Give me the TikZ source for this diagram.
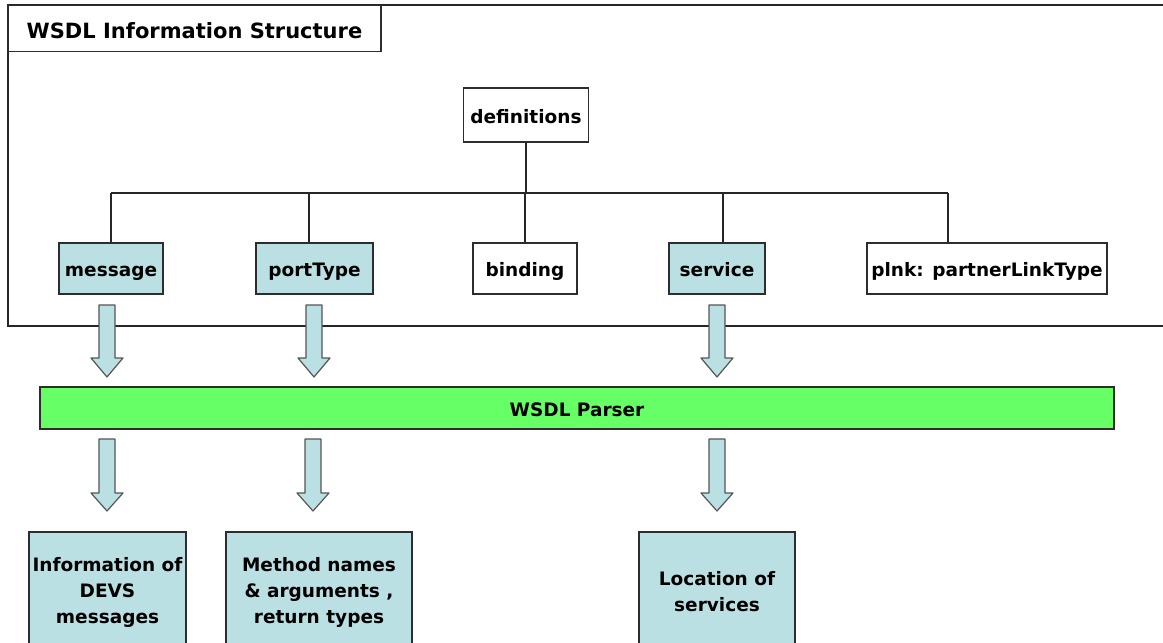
\documentclass[tikz,border=0pt]{standalone}
\usepackage{fontspec}
\setmainfont{DejaVu Sans}
\definecolor{paleblue}{RGB}{187,224,227}
\definecolor{parsergreen}{RGB}{102,255,102}
\definecolor{edge}{RGB}{45,45,45}
\definecolor{arrowedge}{RGB}{85,85,85}
% hollow block arrow pointing down: {centre x}{top y}{head start y}{tip y}
\newcommand{\wsdlarrow}[4]{%
  \draw[blockarrow] (#1-8,#2) -- (#1+8,#2) -- (#1+8,#3) -- (#1+16,#3)
    -- (#1,#4) -- (#1-16,#3) -- (#1-8,#3) -- cycle;}
\begin{document}
\begin{tikzpicture}[x=1pt,y=-1pt,
  lbl/.style={font=\bfseries\fontsize{18.5}{26}\selectfont},
  box/.style={lbl, draw=edge, line width=1.3pt, inner sep=0pt, align=center},
  oneline/.style={text height=17pt, text depth=1pt},
  plainbox/.style={box, oneline, fill=white},
  bluebox/.style={box, oneline, fill=paleblue},
  resultbox/.style={box, fill=paleblue},
  tree/.style={draw=black!85, line width=1.3pt},
  blockarrow/.style={draw=arrowedge, fill=paleblue, line width=1.2pt, line join=round}]
\useasboundingbox (0,0) rectangle (1163,643);
\clip (0,0) rectangle (1163,643);
\fill[white] (0,0) rectangle (1163,643);

% frame of the information structure
\draw[tree, line width=1.4pt] (1175,5) -- (8,5) -- (8,326) -- (1175,326);
\node[box, minimum width=373pt, minimum height=46pt, text height=19pt, text depth=0pt,
  font=\bfseries\fontsize{21}{24}\selectfont] (title) at (194.5,28.5) {WSDL Information Structure};

% element tree
\node[plainbox, minimum width=125pt, minimum height=54pt] (defs) at (526,115) {definitions};
\node[bluebox, minimum width=104pt, minimum height=51pt] (message) at (111,268.5) {message};
\node[bluebox, minimum width=117pt, minimum height=51pt] (porttype) at (314.5,268.5) {portType};
\node[plainbox, minimum width=104pt, minimum height=51pt] (binding) at (525,268.5) {binding};
\node[bluebox, minimum width=96pt, minimum height=51pt] (service) at (717,268.5) {service};
\node[plainbox, minimum width=240pt, minimum height=51pt] (plnk) at (987,268.5) {plnk: partnerLinkType};

\coordinate (bus) at (0,193);
\draw[tree] (defs.south) -- (defs.south |- bus);
\draw[tree] (message.north |- bus) -- ([xshift=-39pt]plnk.north |- bus);
\draw[tree] (message.north |- bus) -- (message.north);
\draw[tree] ([xshift=-5.5pt]porttype.north |- bus) -- ([xshift=-5.5pt]porttype.north);
\draw[tree] (binding.north |- bus) -- (binding.north);
\draw[tree] ([xshift=6pt]service.north |- bus) -- ([xshift=6pt]service.north);
\draw[tree] ([xshift=-39pt]plnk.north |- bus) -- ([xshift=-39pt]plnk.north);

% parser
\node[box, oneline, fill=parsergreen, minimum width=1074pt, minimum height=42pt] (parser) at (577,408) {WSDL Parser};

% results
\node[resultbox, minimum width=157pt, minimum height=120pt] (devs) at (107.5,592)
  {Information of\\DEVS\\messages};
\node[resultbox, minimum width=186pt, minimum height=120pt] (methods) at (319,592)
  {Method names\\\& arguments ,\\return types};
\node[resultbox, minimum width=156pt, minimum height=120pt] (location) at (717,592)
  {Location of\\services};

% block arrows into and out of the parser
\wsdlarrow{107}{305}{358}{377}
\wsdlarrow{314}{305}{358}{377}
\wsdlarrow{717}{305}{358}{377}
\wsdlarrow{107}{439}{493}{511}
\wsdlarrow{313}{439}{493}{511}
\wsdlarrow{717}{439}{493}{511}
\end{tikzpicture}
\end{document}
